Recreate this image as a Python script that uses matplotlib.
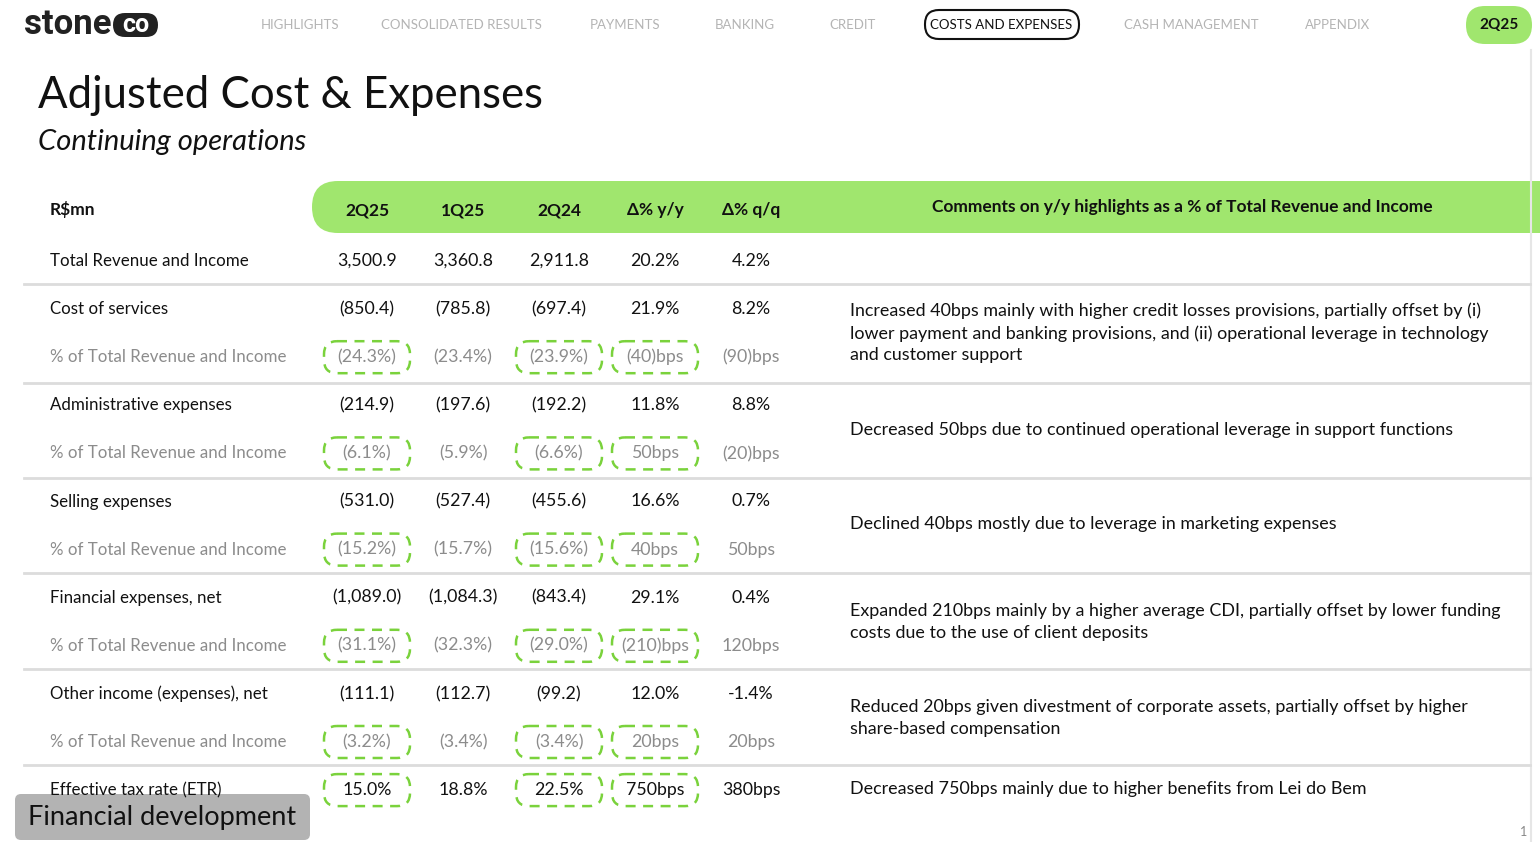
import matplotlib
matplotlib.use("Agg")
import matplotlib.pyplot as plt
from matplotlib.patches import FancyBboxPatch

plt.rcParams['font.family'] = ['Lato', 'DejaVu Sans']

nav_items = ["HIGHLIGHTS", "CONSOLIDATED RESULTS", "PAYMENTS", "BANKING", "CREDIT",
             "COSTS AND EXPENSES", "CASH MANAGEMENT", "APPENDIX"]
nav_x = [300, 461, 625, 745, 853, 1001, 1191, 1338]
active_nav = "COSTS AND EXPENSES"

columns = ["2Q25", "1Q25", "2Q24", "Δ% y/y", "Δ% q/q"]
row_labels = ["Total Revenue and Income",
              "Cost of services", "% of Total Revenue and Income",
              "Administrative expenses", "% of Total Revenue and Income",
              "Selling expenses", "% of Total Revenue and Income",
              "Financial expenses, net", "% of Total Revenue and Income",
              "Other income (expenses), net", "% of Total Revenue and Income",
              "Effective tax rate (ETR)"]
values = [
    ["3,500.9", "3,360.8", "2,911.8", "20.2%", "4.2%"],
    ["(850.4)", "(785.8)", "(697.4)", "21.9%", "8.2%"],
    ["(24.3%)", "(23.4%)", "(23.9%)", "(40)bps", "(90)bps"],
    ["(214.9)", "(197.6)", "(192.2)", "11.8%", "8.8%"],
    ["(6.1%)", "(5.9%)", "(6.6%)", "50bps", "(20)bps"],
    ["(531.0)", "(527.4)", "(455.6)", "16.6%", "0.7%"],
    ["(15.2%)", "(15.7%)", "(15.6%)", "40bps", "50bps"],
    ["(1,089.0)", "(1,084.3)", "(843.4)", "29.1%", "0.4%"],
    ["(31.1%)", "(32.3%)", "(29.0%)", "(210)bps", "120bps"],
    ["(111.1)", "(112.7)", "(99.2)", "12.0%", "-1.4%"],
    ["(3.2%)", "(3.4%)", "(3.4%)", "20bps", "20bps"],
    ["15.0%", "18.8%", "22.5%", "750bps", "380bps"],
]
is_pct_row = [False, False, True, False, True, False, True, False, True, False, True, False]
circled_rows = [2, 4, 6, 8, 10, 11]
circled_cols = [0, 2, 3]

comments = [
    "Increased 40bps mainly with higher credit losses provisions, partially offset by (i)\n"
    "lower payment and banking provisions, and (ii) operational leverage in technology\n"
    "and customer support",
    "Decreased 50bps due to continued operational leverage in support functions",
    "Declined 40bps mostly due to leverage in marketing expenses",
    "Expanded 210bps mainly by a higher average CDI, partially offset by lower funding\n"
    "costs due to the use of client deposits",
    "Reduced 20bps given divestment of corporate assets, partially offset by higher\n"
    "share-based compensation",
    "Decreased 750bps mainly due to higher benefits from Lei do Bem",
]
comment_y = [333, 430, 524, 622, 718, 789]

GREEN = "#a0e66e"
DASH = "#7ad23c"
GREY = "#8c8c8c"

fig = plt.figure(figsize=(15.4, 8.42), dpi=100)
ax = fig.add_axes([0, 0, 1, 1])
ax.set_xlim(0, 1540)
ax.set_ylim(842, 0)
ax.axis("off")

# logo
ax.text(24, 25, "stone", fontsize=25, fontweight="bold", color="#222222",
        va="center", ha="left", family=["Roboto", "DejaVu Sans"])
ax.add_patch(FancyBboxPatch((113, 13), 45, 24, boxstyle="round,pad=0,rounding_size=12",
                            fc="#222222", ec="none"))
ax.text(135.5, 25, "co", fontsize=18, fontweight="bold", color="white", va="center", ha="center",
        family=["Roboto", "DejaVu Sans"])

# nav
for name, x in zip(nav_items, nav_x):
    if name == active_nav:
        ax.add_patch(FancyBboxPatch((925, 10), 154, 29, boxstyle="round,pad=0,rounding_size=14",
                                    fc="white", ec="#111111", lw=1.5))
        ax.text(x, 25, name, fontsize=9.5, color="#111111", ha="center", va="center")
    else:
        ax.text(x, 25, name, fontsize=9.5, color="#b4b4b4", ha="center", va="center")
ax.add_patch(FancyBboxPatch((1466, 6), 66, 38, boxstyle="round,pad=0,rounding_size=19",
                            fc=GREEN, ec="none"))
ax.text(1499, 25, "2Q25", fontsize=11, fontweight="bold", color="#111111", ha="center", va="center")
ax.plot([1531, 1531], [50, 842], color="#e6e6e6", lw=1.5)

# titles
ax.text(38, 96, "Adjusted Cost & Expenses", fontsize=31.5, color="#111111", va="center")
ax.text(38, 142, "Continuing operations", fontsize=21, style="italic", color="#111111", va="center")

# header band
ax.add_patch(FancyBboxPatch((312, 181), 1260, 52, boxstyle="round,pad=0,rounding_size=26",
                            fc=GREEN, ec="none", clip_on=True))
ax.text(50, 210, "R$mn", fontsize=12.5, fontweight="bold", color="#111111", va="center")
col_x = [367, 463, 559, 655, 751]
for c, x in zip(columns, col_x):
    ax.text(x, 210, c, fontsize=12.5, fontweight="bold", color="#111111", ha="center", va="center")
ax.text(1182, 207, "Comments on y/y highlights as a % of Total Revenue and Income",
        fontsize=12.5, fontweight="bold", color="#111111", ha="center", va="center")

# rows
row_y = [261 + 48.1 * i for i in range(len(row_labels))]
for i, (lab, vals) in enumerate(zip(row_labels, values)):
    y = row_y[i]
    col = GREY if is_pct_row[i] else "#111111"
    ax.text(50, y, lab, fontsize=12.2, color=col, va="center")
    for j, (v, x) in enumerate(zip(vals, col_x)):
        ax.text(x, y, v, fontsize=12.8, color=col, ha="center", va="center")
        if i in circled_rows and j in circled_cols:
            ax.add_patch(FancyBboxPatch((x - 43, y - 16), 86, 32,
                                        boxstyle="round,pad=0,rounding_size=13",
                                        fc="none", ec=DASH, lw=1.8, ls=(0, (4, 3))))

for y in [284, 383, 478, 573, 669, 765]:
    ax.plot([24, 1530], [y, y], color="#dcdcdc", lw=2)

for txt, y in zip(comments, comment_y):
    ax.text(850, y, txt, fontsize=12.9, color="#111111", va="center", linespacing=1.42)

# footer tag
ax.add_patch(FancyBboxPatch((15, 794), 295, 46, boxstyle="round,pad=0,rounding_size=6",
                            fc="#b3b3b3", ec="none"))
ax.text(162, 817, "Financial development", fontsize=19.5, color="#111111", ha="center", va="center")
ax.text(1524, 832, "1", fontsize=9, color="#888888", ha="center", va="center")

fig.savefig("out.png", dpi=100)
